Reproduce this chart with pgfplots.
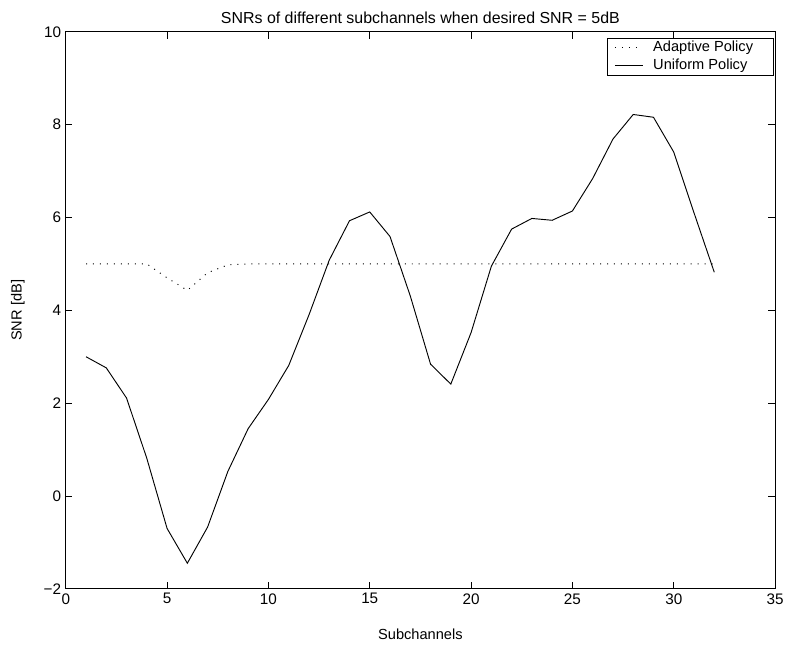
\documentclass[border=0pt]{standalone}
\usepackage{pgfplots}
\pgfplotsset{compat=1.18}
\usetikzlibrary{calc}
\usepackage{fontspec}
\setmainfont{Liberation Sans}
\begin{document}
\fontsize{10}{12}\selectfont
\begin{tikzpicture}[x=0.75pt,y=0.75pt]
\begin{axis}[name=ax,
  scale only axis, width=534pt, height=419.25pt,
  xmin=0, xmax=35, ymin=-2, ymax=10,
  xtick={0,5,...,35}, ytick={-2,0,...,10},
  yticklabels={−2,0,2,4,6,8,10},
  tick align=inside, tickpos=both,
  major tick length=5pt,
  axis line style={line width=0.8pt},
  tick style={line width=0.6pt,black},
  /pgf/number format/assume math mode=true,
  tick label style={font=\fontsize{11.5}{13}\selectfont},
  label style={font=\fontsize{11}{13}\selectfont},
  title style={font=\fontsize{12}{14}\selectfont, yshift=-3pt},
  title={SNRs of different subchannels when desired SNR = 5dB},
  xlabel={Subchannels}, ylabel={SNR [dB]},
  xlabel style={yshift=-12pt},
  ylabel style={yshift=7.5pt},
  legend style={at={(1,1)}, anchor=north east, xshift=-1pt, yshift=-4.5pt,
    draw=black, line width=0.6pt,
    font=\fontsize{11}{13}\selectfont, inner xsep=5.25pt, inner ysep=1.8pt,
    nodes={inner sep=0pt, text height=8pt, text depth=2.5pt},
    row sep=3.3pt, column sep=7.5pt, cells={anchor=west}},
  legend image code/.code={\draw[#1] (0pt,0pt) -- (21pt,0pt);},
]
\addplot[black, line width=0.7pt, dash pattern=on 0.75pt off 4.5pt] coordinates {
(1,5)(2,5)(3,5)(4,5)(5,4.70)(6,4.43)(7,4.81)(8,4.98)(9,5)(10,5)(11,5)(12,5)(13,5)(14,5)(15,5)(16,5)
(17,5)(18,5)(19,5)(20,5)(21,5)(22,5)(23,5)(24,5)(25,5)(26,5)(27,5)(28,5)(29,5)(30,5)(31,5)(32,5)};
\addlegendentry{Adaptive Policy\hspace*{10pt}}
\addplot[black, line width=0.7pt] coordinates {
(1,3.00)(2,2.76)(3,2.11)(4,0.81)(5,-0.70)(6,-1.45)(7,-0.67)(8,0.53)(9,1.45)(10,2.08)(11,2.81)
(12,3.90)(13,5.08)(14,5.93)(15,6.12)(16,5.59)(17,4.31)(18,2.84)(19,2.41)(20,3.52)(21,4.95)
(22,5.75)(23,5.98)(24,5.94)(25,6.14)(26,6.84)(27,7.69)(28,8.22)(29,8.16)(30,7.41)(31,6.10)(32,4.82)};
\addlegendentry{Uniform Policy}
\end{axis}
\path ($(ax.south west)+(-66,-57)$) rectangle ($(ax.north east)+(10,32)$);
\end{tikzpicture}
\end{document}
